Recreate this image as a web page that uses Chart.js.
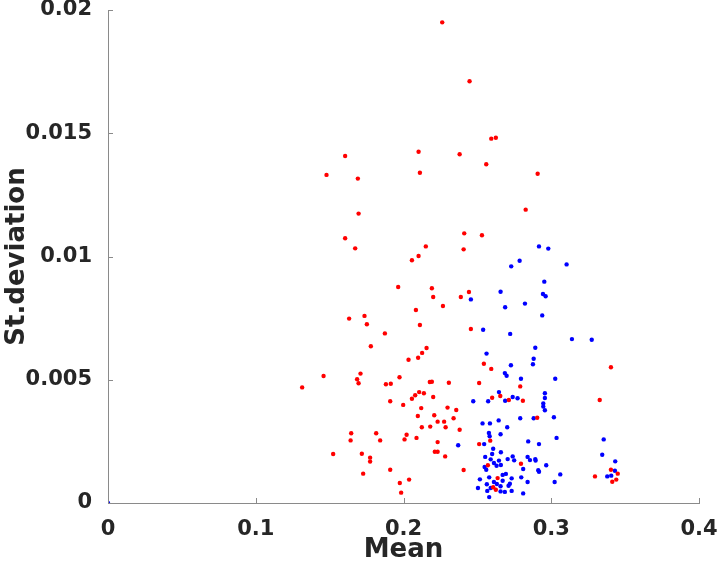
<!DOCTYPE html>
<html>
<head>
<meta charset="utf-8">
<script src="https://cdn.jsdelivr.net/npm/chart.js@4.4.1/dist/chart.umd.min.js"></script>
<style>
    html, body { margin: 0; padding: 0; background: #fff; }
    #wrap { width: 718px; height: 566px; }
</style>
</head>
<body>
<div id="wrap"><canvas id="scatter" width="718" height="566"></canvas></div>
<script>
// axis ticks
const xTicks = [0, 0.1, 0.2, 0.3, 0.4];
const yTicks = [0, 0.005, 0.01, 0.015, 0.02];

// red group (mean / st.deviation)
const redMean = [
    0.1605, 0.1479, 0.1691, 0.1696, 0.1605, 0.2262, 0.2447, 0.2594, 0.2625, 0.2102,
    0.2380, 0.2560, 0.2111, 0.2908, 0.2827, 0.2411, 0.2531, 0.1673, 0.2151, 0.2407,
    0.2102, 0.2057, 0.1964, 0.2192, 0.2201, 0.2388, 0.2443, 0.2267, 0.2084, 0.1632,
    0.1736, 0.1752, 0.2111, 0.1874, 0.2456, 0.1779, 0.2156, 0.2126, 0.2099, 0.2034,
    0.1459, 0.1709, 0.1686, 0.1696, 0.1973, 0.1881, 0.1914, 0.2178, 0.2192, 0.2307,
    0.2544, 0.2594, 0.3404, 0.2512, 0.1314, 0.1910, 0.1998, 0.2057, 0.2079, 0.2106,
    0.2138, 0.2120, 0.2097, 0.2124, 0.1646, 0.1642, 0.1815, 0.1842, 0.2021, 0.2007,
    0.2088, 0.1524, 0.1718, 0.1774, 0.1774, 0.1727, 0.1910, 0.1975, 0.2038, 0.1984,
    0.2201, 0.2298, 0.2357, 0.2208, 0.2339, 0.2231, 0.2275, 0.2181, 0.2285, 0.2380,
    0.2231, 0.2212, 0.2231, 0.2282, 0.2407, 0.2512, 0.2587, 0.2600, 0.2655, 0.2571,
    0.2637, 0.2607, 0.2625, 0.2790, 0.2713, 0.2808, 0.2905, 0.2795, 0.3328, 0.3404,
    0.3450, 0.3296, 0.3440, 0.3413
];
const redStd = [
    0.01408, 0.01331, 0.01316, 0.01174, 0.01074, 0.01950, 0.01711, 0.01478, 0.01482, 0.01425,
    0.01415, 0.01374, 0.01340, 0.01336, 0.01190, 0.01094, 0.01086, 0.01033, 0.01041, 0.01029,
    0.01002, 0.00985, 0.00876, 0.00871, 0.00836, 0.00836, 0.00856, 0.00799, 0.00783, 0.00748,
    0.00759, 0.00725, 0.00722, 0.00688, 0.00706, 0.00636, 0.00629, 0.00609, 0.00589, 0.00581,
    0.00515, 0.00525, 0.00502, 0.00486, 0.00510, 0.00482, 0.00484, 0.00491, 0.00492, 0.00488,
    0.00565, 0.00544, 0.00551, 0.00487, 0.00469, 0.00413, 0.00398, 0.00423, 0.00437, 0.00450,
    0.00445, 0.00385, 0.00353, 0.00307, 0.00283, 0.00254, 0.00283, 0.00254, 0.00277, 0.00258,
    0.00264, 0.00199, 0.00200, 0.00184, 0.00168, 0.00119, 0.00135, 0.00081, 0.00095, 0.00042,
    0.00430, 0.00387, 0.00377, 0.00356, 0.00344, 0.00330, 0.00330, 0.00310, 0.00307, 0.00297,
    0.00247, 0.00208, 0.00208, 0.00189, 0.00134, 0.00239, 0.00253, 0.00427, 0.00434, 0.00153,
    0.00101, 0.00064, 0.00054, 0.00473, 0.00418, 0.00415, 0.00346, 0.00159, 0.00418, 0.00135,
    0.00119, 0.00108, 0.00095, 0.00086
];

// blue group (mean / st.deviation)
const blueMean = [
    0,
    0.2456, 0.2917, 0.2980, 0.2786, 0.2729, 0.3104, 0.2953, 0.2657, 0.2944, 0.2962,
    0.2688, 0.2822, 0.2939, 0.2539, 0.2722, 0.3140, 0.3274, 0.2892, 0.2562, 0.2881,
    0.2876, 0.2727, 0.2686, 0.2698, 0.2795, 0.3027, 0.2472, 0.2573, 0.2646, 0.2535,
    0.2585, 0.2644, 0.2578, 0.2583, 0.2657, 0.2370, 0.2546, 0.2607, 0.2659, 0.2600,
    0.2553, 0.2590, 0.2612, 0.2630, 0.2646, 0.2549, 0.2560, 0.2659, 0.2580, 0.2517,
    0.2612, 0.2564, 0.2632, 0.2590, 0.2657, 0.2504, 0.2567, 0.2657, 0.2580,
    0.2688, 0.2739, 0.2772, 0.2957, 0.2957, 0.2946, 0.2946, 0.2957, 0.2790, 0.2881, 0.3018, 0.2702,
    0.2844, 0.2917, 0.3036,
    0.2739, 0.2749, 0.2705,
    0.2840, 0.2856, 0.2892, 0.2894,
    0.2966, 0.2810, 0.2912, 0.2917, 0.3061, 0.2671, 0.2693, 0.2732, 0.2797, 0.2671, 0.2720, 0.2711, 0.2840, 0.3023,
    0.2686, 0.2732, 0.2810,
    0.3355, 0.3345, 0.3433, 0.3431, 0.3379, 0.3406
];
const blueStd = [
    0,
    0.00826, 0.01041, 0.01032, 0.00983, 0.00960, 0.00968, 0.00898, 0.00857, 0.00848, 0.00839,
    0.00794, 0.00809, 0.00761, 0.00703, 0.00686, 0.00665, 0.00662, 0.00630, 0.00606, 0.00585,
    0.00563, 0.00559, 0.00527, 0.00516, 0.00504, 0.00504, 0.00413, 0.00413, 0.00450, 0.00323,
    0.00323, 0.00335, 0.00284, 0.00271, 0.00279, 0.00234, 0.00239, 0.00220, 0.00206, 0.00199,
    0.00187, 0.00177, 0.00162, 0.00151, 0.00172, 0.00146, 0.00135, 0.00154, 0.00104, 0.00096,
    0.00085, 0.00076, 0.00077, 0.00061, 0.00068, 0.00061, 0.00049, 0.00047, 0.00024,
    0.00415, 0.00430, 0.00425, 0.00445, 0.00426, 0.00404, 0.00391, 0.00376, 0.00344, 0.00344, 0.00348, 0.00307,
    0.00250, 0.00239, 0.00264,
    0.00189, 0.00173, 0.00178,
    0.00187, 0.00174, 0.00178, 0.00172,
    0.00153, 0.00138, 0.00133, 0.00127, 0.00116, 0.00114, 0.00118, 0.00100, 0.00104, 0.00090, 0.00078, 0.00070, 0.00085, 0.00085,
    0.00045, 0.00049, 0.00039,
    0.00258, 0.00196, 0.00169, 0.00131, 0.00108, 0.00111
];

const AXIS_COLOR = '#8a8a8a';
const TEXT_COLOR = '#262626';
const FONT = 'DejaVu Sans';

function toPoints(xs, ys) {
    return xs.map((x, i) => ({ x: x, y: ys[i] }));
}

function fmt(v) {
    return String(parseFloat(v.toFixed(4)));
}

// MATLAB-style ticks that point into the plot area
const innerTicks = {
    id: 'innerTicks',
    afterDraw(chart) {
        const { ctx, chartArea, scales } = chart;
        ctx.save();
        ctx.strokeStyle = AXIS_COLOR;
        ctx.lineWidth = 1;
        ctx.beginPath();
        xTicks.forEach(v => {
            const px = Math.round(scales.x.getPixelForValue(v)) + 0.5;
            ctx.moveTo(px, chartArea.bottom);
            ctx.lineTo(px, chartArea.bottom - 5);
        });
        yTicks.forEach(v => {
            const py = Math.round(scales.y.getPixelForValue(v)) + 0.5;
            ctx.moveTo(chartArea.left, py);
            ctx.lineTo(chartArea.left + 5, py);
        });
        ctx.stroke();
        ctx.restore();
    }
};

new Chart(document.getElementById('scatter'), {
    type: 'scatter',
    data: {
        datasets: [{
            label: 'red',
            data: toPoints(redMean, redStd),
            backgroundColor: '#ff0000',
            borderWidth: 0,
            pointRadius: 2.2
        }, {
            label: 'blue',
            data: toPoints(blueMean, blueStd),
            backgroundColor: '#0000ff',
            borderWidth: 0,
            pointRadius: 2.2
        }]
    },
    options: {
        responsive: false,
        animation: false,
        layout: { padding: { top: 10, right: 19, left: 0, bottom: 0 } },
        plugins: {
            legend: { display: false },
            tooltip: { enabled: false }
        },
        scales: {
            x: {
                type: 'linear',
                min: 0,
                max: 0.4,
                afterBuildTicks: s => { s.ticks = xTicks.map(v => ({ value: v })); },
                afterFit: s => {
                    s.height = 63;
                    s.paddingLeft = 0;
                    s.paddingRight = 0;
                },
                grid: { display: false },
                border: { display: true, color: AXIS_COLOR, width: 1 },
                ticks: {
                    color: TEXT_COLOR,
                    padding: 6,
                    maxRotation: 0,
                    font: { family: FONT, weight: 'bold', size: 21 },
                    callback: v => fmt(v)
                },
                title: {
                    display: true,
                    text: 'Mean',
                    color: TEXT_COLOR,
                    padding: { top: 0, bottom: 0 },
                    font: { family: FONT, weight: 'bold', size: 26 }
                }
            },
            y: {
                type: 'linear',
                min: 0,
                max: 0.02,
                afterBuildTicks: s => { s.ticks = yTicks.map(v => ({ value: v })); },
                afterFit: s => {
                    s.width = 108;
                    s.paddingTop = 0;
                    s.paddingBottom = 0;
                },
                grid: { display: false },
                border: { display: true, color: AXIS_COLOR, width: 1 },
                ticks: {
                    color: TEXT_COLOR,
                    padding: 8,
                    font: { family: FONT, weight: 'bold', size: 21 },
                    callback: v => fmt(v)
                },
                title: {
                    display: true,
                    text: 'St.deviation',
                    color: TEXT_COLOR,
                    padding: { top: 2, bottom: 0 },
                    font: { family: FONT, weight: 'bold', size: 26 }
                }
            }
        }
    },
    plugins: [innerTicks]
});
</script>
</body>
</html>
